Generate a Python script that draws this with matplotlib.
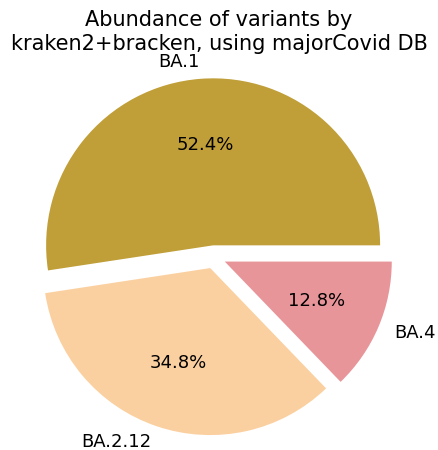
import matplotlib
matplotlib.use("Agg")
import matplotlib.pyplot as plt

labels = ["BA.1", "BA.2.12", "BA.4"]
values = [52.4, 34.8, 12.8]
colors = ["#c09e38", "#fbd0a0", "#e8959a"]
explode = [0.07, 0.07, 0.07]

fig = plt.figure(figsize=(4.38, 4.5), dpi=100)
W, H = 438, 450
cx, cy, r = 214, 257, 167
ax = fig.add_axes([(cx - 1.25 * r) / W, (H - cy - 1.25 * r) / H, 2.5 * r / W, 2.5 * r / H])
ax.pie(values, labels=labels, colors=colors, explode=explode, autopct="%1.1f%%",
       textprops={"fontsize": 13})
ax.set_xlim(-1.25, 1.25)
ax.set_ylim(-1.25, 1.25)
fig.text(0.5, 1 - 32 / H, "Abundance of variants by\nkraken2+bracken, using majorCovid DB",
         ha="center", va="center", fontsize=15)
fig.savefig("out.png", dpi=100)
